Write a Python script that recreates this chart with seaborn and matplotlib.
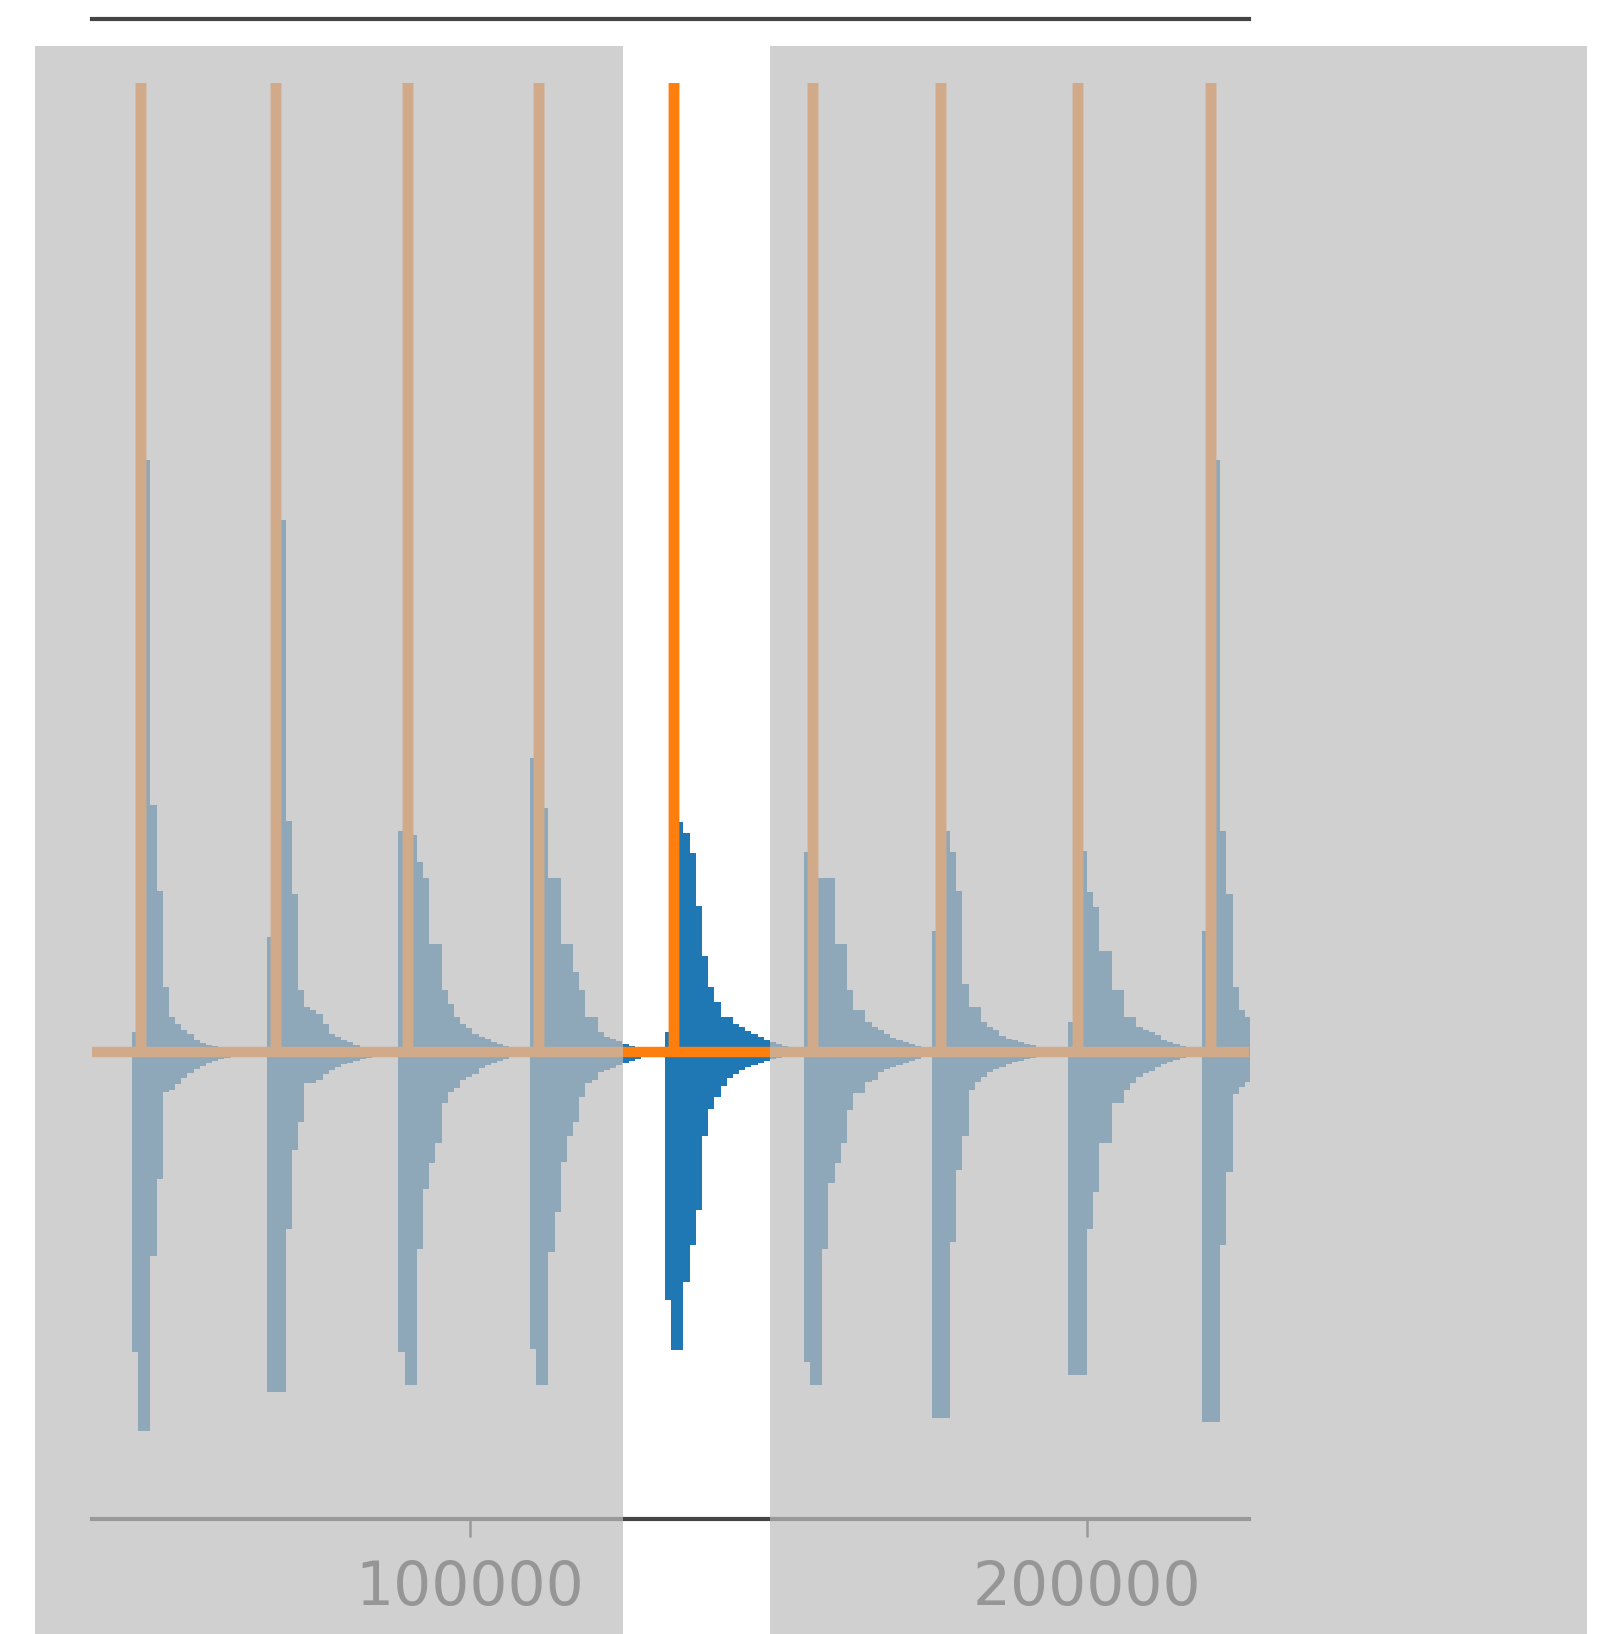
import numpy as np
import pandas as pd
import matplotlib
matplotlib.use("Agg")
import matplotlib.pyplot as plt
from matplotlib.patches import Rectangle
import seaborn as sns

# ---- data -------------------------------------------------------------
# time window shown on the x axis
t_start = 38736
t_end = 226256

# times of the periodic trigger events
spike_times = [46700, 68600, 89900, 111200, 133100, 155600, 176300, 198500, 220100]
spike_height = 969

# histogram bin width and offset of the first bin relative to each event
bin_width = 1000
bin_offset = -1500

# counts per bin after each event (upper panel, plotted upward)
upper_counts = [
    [20, 592, 592, 247, 161, 65, 35, 28, 22, 18, 12, 9, 7, 6, 5, 4, 3, 3, 2, 2],
    [115, 532, 532, 231, 158, 62, 45, 42, 38, 28, 18, 15, 12, 10, 7, 5, 4, 3, 3, 2],
    [221, 221, 217, 190, 174, 108, 108, 62, 48, 35, 28, 24, 18, 15, 13, 10, 8, 6, 5, 4],
    [294, 294, 244, 174, 174, 108, 108, 80, 62, 35, 35, 20, 15, 13, 11, 8, 6, 5, 4, 3],
    [20, 230, 230, 219, 199, 146, 96, 65, 50, 35, 35, 28, 25, 21, 18, 15, 12, 10, 8, 6],
    [200, 200, 174, 174, 174, 108, 108, 62, 42, 42, 30, 25, 22, 18, 14, 12, 10, 8, 6, 5],
    [121, 221, 221, 200, 161, 68, 45, 45, 30, 25, 22, 16, 13, 12, 10, 8, 7, 5, 4, 3],
    [30, 201, 201, 160, 145, 101, 101, 62, 62, 35, 35, 25, 22, 20, 17, 12, 10, 8, 6, 5],
    [121, 592, 592, 221, 158, 65, 42, 35],
]

# counts per bin after each event (lower panel, plotted downward)
lower_counts = [
    [300, 379, 379, 204, 127, 40, 38, 32, 26, 21, 17, 14, 11, 9, 7, 6, 5, 4, 3, 3],
    [340, 340, 340, 177, 98, 70, 31, 31, 28, 22, 18, 15, 12, 11, 9, 7, 6, 5, 4, 3],
    [300, 333, 333, 197, 137, 111, 91, 51, 40, 36, 28, 25, 22, 16, 13, 11, 9, 7, 5, 4],
    [297, 333, 333, 200, 160, 110, 84, 70, 45, 31, 28, 20, 18, 16, 13, 11, 9, 7, 5, 4],
    [248, 298, 298, 230, 193, 158, 84, 57, 45, 34, 26, 22, 18, 15, 13, 11, 9, 7, 6, 5],
    [310, 333, 333, 197, 131, 111, 91, 58, 41, 41, 30, 28, 20, 17, 15, 13, 11, 9, 7, 5],
    [366, 366, 366, 190, 118, 84, 38, 30, 25, 20, 17, 15, 12, 10, 9, 7, 6, 5, 4, 3],
    [323, 323, 323, 177, 140, 91, 91, 51, 51, 38, 31, 25, 21, 19, 15, 12, 10, 8, 6, 5],
    [370, 370, 370, 193, 120, 42, 35, 30],
]

tick_values = [100000, 200000]
tick_labels = ["100000", "200000"]

y_limits = (-467, 1033)

# ---- build binned tables ---------------------------------------------
def binned_table(times, counts, sign):
    edges, centers, weights = [], [], []
    for t, row in zip(times, counts):
        e = t + bin_offset + bin_width * np.arange(len(row) + 1)
        edges.extend(float(v) for v in e)
        centers.extend(float(v) for v in e[:-1] + bin_width / 2)
        weights.extend(sign * c for c in row)
    return edges, pd.DataFrame({"time": centers, "count": weights})

up_edges, up_df = binned_table(spike_times, upper_counts, 1)
lo_edges, lo_df = binned_table(spike_times, lower_counts, -1)

# trigger trace: flat baseline with an impulse at each event
trace_t, trace_v = [t_start], [0]
for t in spike_times:
    trace_t += [t, t, t]
    trace_v += [0, spike_height, 0]
trace_t.append(t_end)
trace_v.append(0)
trace = pd.DataFrame({"time": trace_t, "value": trace_v})

# ---- figure -----------------------------------------------------------
sns.set_theme(style="ticks")
plt.rcParams["font.family"] = ["DejaVu Sans"]

W, H = 1619, 1634
fig = plt.figure(figsize=(W / 100, H / 100), dpi=100)
ax = fig.add_axes([92 / W, (H - 1519) / H, (1249 - 92) / W, (1519 - 19) / H])

blue = "#1f77b4"
orange = "#ff7f0e"

sns.histplot(data=up_df, x="time", weights="count", bins=up_edges,
             element="step", fill=True, color=blue, alpha=1, linewidth=0, ax=ax)
sns.histplot(data=lo_df, x="time", weights="count", bins=lo_edges,
             element="step", fill=True, color=blue, alpha=1, linewidth=0, ax=ax)
sns.lineplot(data=trace, x="time", y="value", sort=False, estimator=None,
             color=orange, linewidth=7.5, solid_joinstyle="bevel",
             solid_capstyle="butt", ax=ax)

ax.set_xlim(t_start, t_end)
ax.set_ylim(*y_limits)
ax.set_xlabel("")
ax.set_ylabel("")
ax.set_yticks([])
ax.set_xticks(tick_values)
ax.set_xticklabels(tick_labels)

spine_color = "#444444"
for side in ("left", "right"):
    ax.spines[side].set_visible(False)
for side in ("top", "bottom"):
    ax.spines[side].set_visible(True)
    ax.spines[side].set_color(spine_color)
    ax.spines[side].set_linewidth(3)
ax.tick_params(axis="x", which="major", direction="out", length=13, width=1.8,
               color=spine_color, labelcolor="#3a3a3a", labelsize=43, pad=16)
ax.tick_params(axis="x", top=False)

# shaded regions dimming everything outside the selected window
shade = (189 / 255, 189 / 255, 189 / 255)
for x0, x1 in [(35, 623), (770, 1587)]:
    fig.add_artist(Rectangle((x0 / W, 0), (x1 - x0) / W, (H - 46) / H,
                             transform=fig.transFigure, facecolor=shade,
                             edgecolor="none", alpha=0.71, zorder=10))

fig.savefig("out.png", dpi=100)
